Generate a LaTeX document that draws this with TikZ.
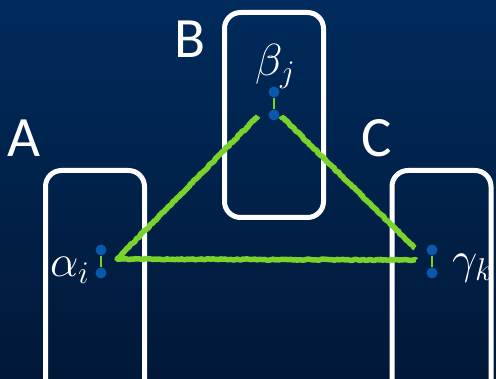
\RequirePackage{fix-cm}
\documentclass[tikz,border=0pt]{standalone}
\usepackage{fontspec}
\newfontfamily\labelfont{Carlito}
\usetikzlibrary{decorations.pathmorphing}
\definecolor{bgtop}{RGB}{0,43,92}
\definecolor{bgbot}{RGB}{1,24,56}
\definecolor{chalkgreen}{RGB}{122,210,45}
\definecolor{dotblue}{RGB}{10,88,172}
\newcommand{\bigsym}[1]{\scalebox{2.25}{$#1$}}

\begin{document}
\begin{tikzpicture}[x=1pt, y=-1pt,
  framebox/.style={draw=white, line width=5pt, rounded corners=16pt, minimum width=99pt, inner sep=0pt},
  dot/.style={circle, fill=dotblue, minimum size=11pt, inner sep=0pt},
  link/.style={chalkgreen, line width=2.2pt},
  chalk/.style={chalkgreen, line width=5.5pt, line join=round, decorate, decoration={random steps, segment length=2pt, amplitude=0.6pt}},
  letter/.style={text=white, font=\labelfont\fontsize{57}{62}\selectfont, anchor=base, inner sep=0pt},
  sym/.style={text=white, font=\fontsize{20}{24}\selectfont, anchor=base west, inner sep=0pt}]
  \useasboundingbox (0,0) rectangle (496,379);
  \fill[top color=bgtop, bottom color=bgbot] (0,0) rectangle (496,379);

  \node[framebox, minimum height=240pt] (boxA) at (95,290.5) {};
  \node[framebox, minimum height=205pt] (boxB) at (274,115) {};
  \node[framebox, minimum height=240pt] (boxC) at (441.5,290.5) {};

  \node[letter] (labA) at (24,157) {A};
  \node[letter] (labB) at (190,58) {B};
  \node[letter] (labC) at (377,157) {C};

  \node[sym] (alpha) at (50,277) {\bigsym{\alpha_i}};
  \node[sym] (beta) at (255,76) {\bigsym{\beta_j}};
  \node[sym] (gamma) at (452,274) {\bigsym{\gamma_k}};

  \node[dot] (a1) at (101,250) {};
  \node[dot] (a2) at (101,273) {};
  \node[dot] (b1) at (274,92) {};
  \node[dot] (b2) at (274,115) {};
  \node[dot] (c1) at (432,250) {};
  \node[dot] (c2) at (432,273) {};
  \draw[link] (a1) -- (a2);
  \draw[link] (b1) -- (b2);
  \draw[link] (c1) -- (c2);

  \coordinate (ba) at (258,116);
  \coordinate (av) at (117,259);
  \coordinate (ca) at (416,260);
  \coordinate (bc) at (281,116);
  \coordinate (cb) at (415,248);
  \draw[chalk] (ba) -- (av) -- (ca);
  \draw[chalk] (bc) -- (cb);
\end{tikzpicture}
\end{document}
